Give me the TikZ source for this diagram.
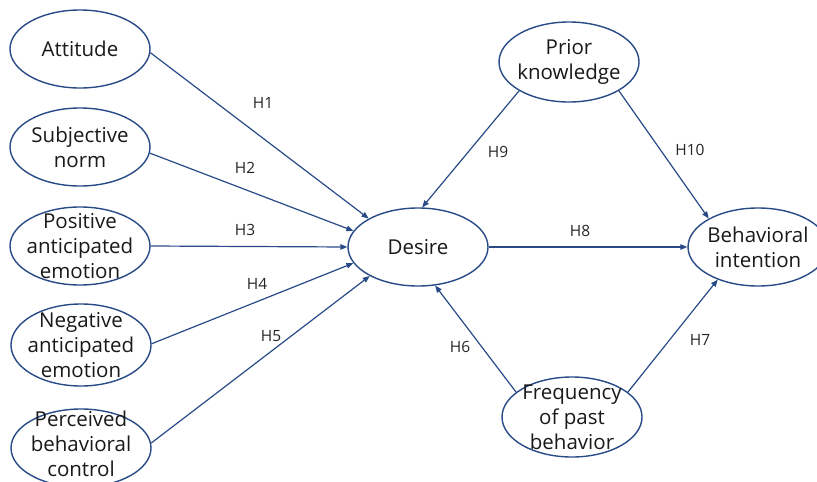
\documentclass[tikz,border=0pt]{standalone}
\usepackage{fontspec}
\setmainfont{Open Sans}
\usetikzlibrary{shapes.geometric,arrows.meta}
\definecolor{edge}{RGB}{40,75,135}
\tikzset{
  oval/.style={ellipse, draw=edge, line width=1.4pt, minimum width=140pt, minimum height=78pt, inner sep=0pt, fill=white},
  txt/.style={align=center, inner sep=0pt, font=\fontsize{20.5}{25}\selectfont, text=black!90},
  hyp/.style={draw=edge, line width=1.2pt, -{Triangle[length=7pt,width=5.5pt]}},
  lab/.style={inner sep=0pt, font=\fontsize{15.5}{18}\selectfont, text=black!85}
}
\begin{document}
\begin{tikzpicture}[x=1pt,y=-1pt]
\clip (0,0) rectangle (817,482);
\fill[white] (0,0) rectangle (817,482);
% ellipses
\node[oval] (att) at (80,49) {};
\node[oval] (sub) at (80,147) {};
\node[oval] (pos) at (80,246) {};
\node[oval, minimum height=82pt] (neg) at (81,345) {};
\node[oval] (per) at (81,448) {};
\node[oval] (des) at (418,247) {};
\node[oval, minimum height=80pt] (pri) at (569,62) {};
\node[oval] (beh) at (758,247) {};
\node[oval, minimum height=80pt] (fre) at (572,417) {};
% texts
\node[txt] at (att) {Attitude};
\node[txt] at (sub) {Subjective\\norm};
\node[txt] at (pos) {Positive\\anticipated\\emotion};
\node[txt] at (neg) {Negative\\anticipated\\emotion};
\node[txt] at ([yshift=4pt]per.center) {Perceived\\behavioral\\control};
\node[txt] at (des) {Desire};
\node[txt] at (pri) {Prior\\knowledge};
\node[txt] at (beh) {Behavioral\\intention};
\node[txt] at (fre) {Frequency\\of past\\behavior};
% connectors
\draw[hyp] (att.-3) -- (des.150);
\draw[hyp] (sub.-5) -- (des.166);
\draw[hyp] (pos.0) -- (des.180);
\draw[hyp] (neg.1) -- (des.194);
\draw[hyp] (per.4) -- (des.211);
\draw[hyp] (pri.210) -- (des.84);
\draw[hyp] (pri.330) -- (beh.150);
\draw[hyp] (des.0) -- (beh.180);
\draw[hyp] (fre.156) -- (des.294);
\draw[hyp] (fre.24) -- (beh.219);
% labels
\node[lab] at (263,103) {H1};
\node[lab] at (245,168) {H2};
\node[lab] at (245,230) {H3};
\node[lab] at (257,284) {H4};
\node[lab] at (271,336) {H5};
\node[lab] at (460,347) {H6};
\node[lab] at (700,340) {H7};
\node[lab] at (580,231) {H8};
\node[lab] at (498,152) {H9};
\node[lab] at (690,150) {H10};
\end{tikzpicture}
\end{document}
